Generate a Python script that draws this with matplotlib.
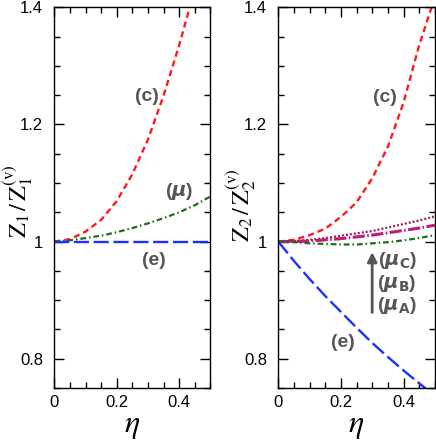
import matplotlib
matplotlib.use("Agg")
import matplotlib.pyplot as plt
from matplotlib.ticker import MultipleLocator, FixedLocator, FixedFormatter

# ---------------- data ----------------
eta = [0.0, 0.05, 0.10, 0.15, 0.20, 0.25, 0.30, 0.35, 0.40, 0.45, 0.50]

# left panel: Z1 / Z1^(v)
z1_c  = [1.000, 1.004, 1.017, 1.037, 1.069, 1.115, 1.174, 1.249, 1.335, 1.43, 1.53]
z1_mu = [1.000, 1.002, 1.006, 1.010, 1.016, 1.023, 1.031, 1.040, 1.050, 1.062, 1.077]
z1_e  = [1.000] * 11

# right panel: Z2 / Z2^(v)
z2_c   = [1.000, 1.003, 1.011, 1.022, 1.042, 1.067, 1.108, 1.162, 1.237, 1.335, 1.417]
z2_muC = [1.000, 1.001, 1.003, 1.006, 1.010, 1.014, 1.018, 1.024, 1.030, 1.036, 1.043]
z2_muB = [1.000, 1.000, 1.001, 1.003, 1.005, 1.008, 1.011, 1.015, 1.019, 1.023, 1.028]
z2_muA = [1.000, 0.999, 0.997, 0.996, 0.995, 0.995, 0.997, 0.999, 1.002, 1.006, 1.011]
z2_e   = [1.000, 0.967, 0.936, 0.907, 0.880, 0.853, 0.827, 0.803, 0.780, 0.758, 0.737]

xticks = [0.0, 0.2, 0.4]
xticklabels = ["0", "0.2", "0.4"]
yticks = [0.8, 1.0, 1.2, 1.4]
yticklabels = ["0.8", "1", "1.2", "1.4"]

# ---------------- styles ----------------
RED = "#ff1a1a"
GREEN = "#1b6e1b"
BLUE = "#1a30ff"
MAG = "#c2187a"
MAROON = "#a01a55"
GRAY = "#555555"

ls_c = (0, (2.6, 1.7))
ls_e = (0, (6.4, 2.0))
ls_mu = (0, (2.6, 1.3, 0.7, 1.3))
ls_muB = (0, (4.0, 0.8, 0.5, 0.8))
ls_muC = (0, (0.9, 0.9))

fig = plt.figure(figsize=(4.36, 4.42), dpi=100)
H = 442.0
W = 436.0
bottom = 1 - 388 / H
height = (388 - 7.3) / H
axL = fig.add_axes([54.3 / W, bottom, 156.0 / W, height])
axR = fig.add_axes([278.3 / W, bottom, 156.5 / W, height])

for ax in (axL, axR):
    ax.set_xlim(0, 0.5)
    ax.set_ylim(0.75, 1.4)
    ax.xaxis.set_major_locator(FixedLocator(xticks))
    ax.xaxis.set_major_formatter(FixedFormatter(xticklabels))
    ax.yaxis.set_major_locator(FixedLocator(yticks))
    ax.yaxis.set_major_formatter(FixedFormatter(yticklabels))
    ax.xaxis.set_minor_locator(MultipleLocator(0.05))
    ax.yaxis.set_minor_locator(MultipleLocator(0.05))
    ax.tick_params(which="both", direction="in", top=True, right=True,
                   width=1.0, color="black")
    ax.tick_params(which="major", length=7.5)
    ax.tick_params(which="minor", length=4.0)
    ax.tick_params(axis="y", which="major", pad=8, labelsize=12)
    ax.tick_params(axis="x", which="major", pad=5, labelsize=12)
    for lab in ax.get_xticklabels() + ax.get_yticklabels():
        lab.set_family("Liberation Sans")
    for s in ax.spines.values():
        s.set_linewidth(1.0)
    ax.set_xlabel(r"$\eta$", fontsize=23, math_fontfamily="stix", labelpad=0)

# left panel
axL.plot(eta, z1_c, color=RED, lw=1.7, ls=ls_c)
axL.plot(eta, z1_mu, color=GREEN, lw=1.6, ls=ls_mu)
axL.plot(eta, z1_e, color=BLUE, lw=1.7, ls=ls_e)
axL.set_ylabel(r"$\mathrm{Z}_1\,/\,\mathrm{Z}_1^{(\mathrm{v})}$", fontsize=17.5,
               math_fontfamily="stix")
axL.yaxis.set_label_coords(-0.126, 0.49)

lab_kw = dict(fontsize=14, fontweight="bold", color=GRAY, family="Liberation Sans",
              ha="center", va="center", math_fontfamily="dejavusans")
axL.text(0.298, 1.247, "(c)", **lab_kw)
axL.text(0.400, 1.086, r"($\boldsymbol{\mu}$)", **lab_kw)
axL.text(0.318, 0.968, "(e)", **lab_kw)

# right panel
axR.plot(eta, z2_c, color=RED, lw=1.7, ls=ls_c)
axR.plot(eta, z2_muC, color=MAROON, lw=1.6, ls=ls_muC)
axR.plot(eta, z2_muB, color=MAG, lw=2.2, ls=ls_muB)
axR.plot(eta, z2_muA, color=GREEN, lw=1.6, ls=ls_mu)
axR.plot(eta, z2_e, color=BLUE, lw=1.7, ls=ls_e)
axR.set_ylabel(r"$\mathrm{Z}_2\,/\,\mathrm{Z}_2^{(\mathrm{v})}$", fontsize=17.5,
               math_fontfamily="stix")
axR.yaxis.set_label_coords(-0.13, 0.48)

axR.text(0.340, 1.246, "(c)", **lab_kw)
axR.text(0.207, 0.828, "(e)", **lab_kw)
axR.text(0.380, 0.968, r"($\boldsymbol{\mu}_\mathbf{C}$)", **lab_kw)
axR.text(0.380, 0.929, r"($\boldsymbol{\mu}_\mathbf{B}$)", **lab_kw)
axR.text(0.380, 0.891, r"($\boldsymbol{\mu}_\mathbf{A}$)", **lab_kw)
axR.annotate("", xy=(0.300, 0.982), xytext=(0.300, 0.879),
             arrowprops=dict(arrowstyle="-|>", color=GRAY, lw=2.0,
                             mutation_scale=14, shrinkA=0, shrinkB=0))

fig.savefig("out.png", dpi=100)
